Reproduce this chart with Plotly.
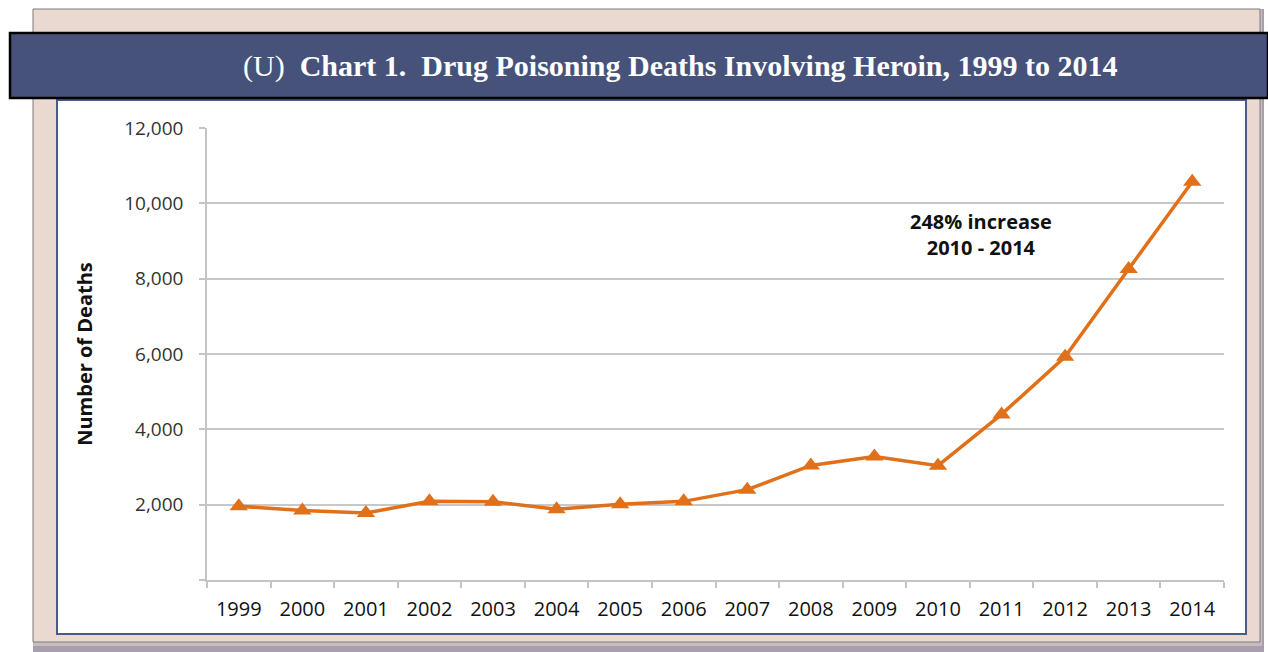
import plotly.graph_objects as go

years = ["1999", "2000", "2001", "2002", "2003", "2004", "2005", "2006",
         "2007", "2008", "2009", "2010", "2011", "2012", "2013", "2014"]
deaths = [1960, 1842, 1779, 2089, 2080, 1878, 2009, 2088,
          2399, 3041, 3278, 3036, 4397, 5925, 8257, 10574]
y_ticks = [0, 2000, 4000, 6000, 8000, 10000, 12000]
y_tick_labels = ["", "2,000", "4,000", "6,000", "8,000", "10,000", "12,000"]
title_text = "(U)  <b>Chart 1.  Drug Poisoning Deaths Involving Heroin, 1999 to 2014</b>"
note_text = "<b>248% increase<br>2010 - 2014</b>"

W, H = 1268, 652
L, R, T, B = 207, 1224, 128, 580  # plot area in pixels


def px(x):
    return (x - L) / (R - L)


def py(y):
    return (B - y) / (B - T)


def rect(x0, y0, x1, y1, fill, line_color=None, line_width=0):
    return dict(type="rect", xref="paper", yref="paper",
                x0=px(x0), x1=px(x1), y0=py(y1), y1=py(y0),
                fillcolor=fill, layer="below",
                line=dict(color=line_color or fill, width=line_width))


fig = go.Figure()
fig.add_trace(go.Scatter(
    x=years, y=deaths, mode="lines+markers",
    line=dict(color="#e0701a", width=3.5),
    marker=dict(symbol="triangle-up", size=16, color="#e0701a"),
    showlegend=False, hoverinfo="x+y"))

shapes = [
    # outer frame with soft shadow
    rect(33, 9, 1264, 652, "#a89fae"),
    rect(33, 9, 1262, 646, "#c9bcc0"),
    rect(33, 9, 1260, 642, "#e9d9d1", "#7a7a7a", 1),
    # inner white panel
    rect(57, 100, 1246, 634, "#ffffff", "#4c5a88", 2),
    # title bar
    rect(10, 33, 1268, 98, "#47527a", "#000000", 2.5),
]

fig.update_layout(
    width=W, height=H,
    margin=dict(l=L, r=W - R, t=T, b=H - B, pad=0),
    paper_bgcolor="#ffffff",
    plot_bgcolor="rgba(0,0,0,0)",
    shapes=shapes,
    xaxis=dict(
        type="category", showgrid=False, showline=True,
        linecolor="#c4c4c4", linewidth=1.5,
        ticks="outside", tickson="boundaries", ticklen=6,
        tickcolor="#c4c4c4", tickwidth=1.5,
        ticklabelstandoff=10,
        tickfont=dict(family="Open Sans", size=20, color="#111111"),
        range=[-0.5, 15.5], fixedrange=True,
    ),
    yaxis=dict(
        range=[0, 12000], tickvals=y_ticks, ticktext=y_tick_labels,
        showgrid=True, gridcolor="#c8c8c8", gridwidth=1.5,
        zeroline=False, showline=True, linecolor="#c4c4c4", linewidth=1.5,
        ticks="outside", ticklen=6, tickcolor="#c4c4c4", tickwidth=1.5,
        ticklabelstandoff=12,
        tickfont=dict(family="Open Sans", size=19, color="#333333"),
        title=dict(text="<b>Number of Deaths</b>", standoff=26,
                   font=dict(family="Open Sans", size=20, color="#111111")),
        fixedrange=True,
    ),
    annotations=[
        dict(text=title_text, xref="paper", yref="paper",
             x=px(680), y=py(66), xanchor="center", yanchor="middle",
             showarrow=False,
             font=dict(family="Liberation Serif", size=30, color="#ffffff")),
        dict(text=note_text, xref="paper", yref="paper",
             x=px(981), y=py(234), xanchor="center", yanchor="middle",
             showarrow=False, align="center",
             font=dict(family="Open Sans", size=20, color="#111111")),
    ],
)

fig.write_html("out.html", config={"displayModeBar": False},
               post_script="document.body.style.margin='0';"
                           "document.body.style.padding='0';")
